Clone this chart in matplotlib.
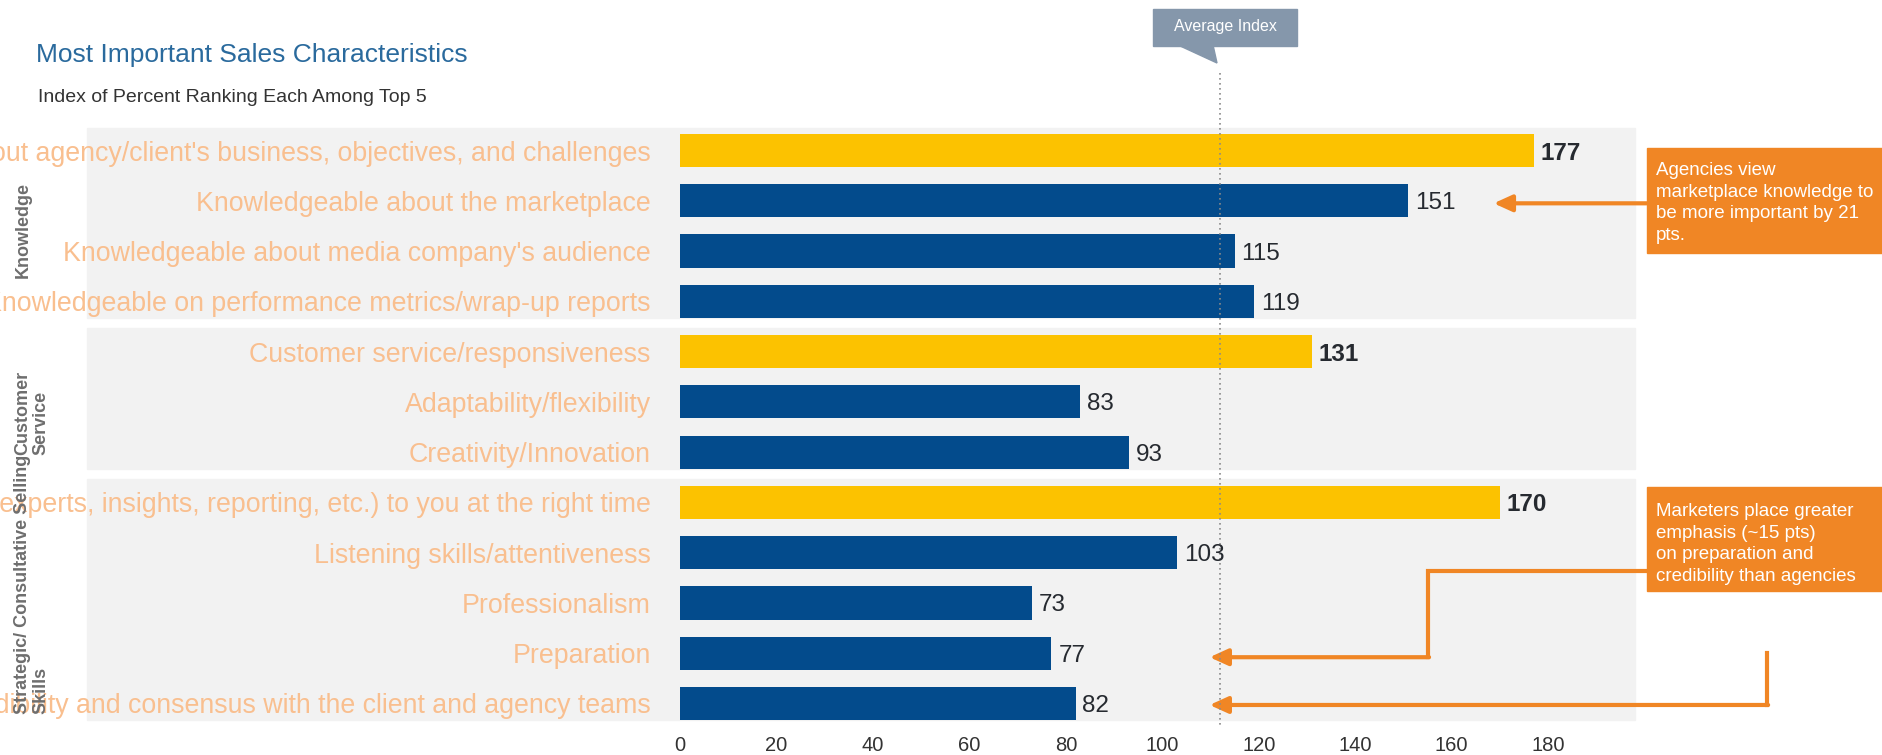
import matplotlib.pyplot as plt
from matplotlib.patches import Rectangle, Polygon

# chart data
labels = [
    "Knowledgeable about agency/client's business, objectives, and challenges",
    "Knowledgeable about the marketplace",
    "Knowledgeable about media company's audience",
    "Knowledgeable on performance metrics/wrap-up reports",
    "Customer service/responsiveness",
    "Adaptability/flexibility",
    "Creativity/Innovation",
    "Bringing the right resources (experts, insights, reporting, etc.) to you at the right time",
    "Listening skills/attentiveness",
    "Professionalism",
    "Preparation",
    "Building credibility and consensus with the client and agency teams",
]
values = [177, 151, 115, 119, 131, 83, 93, 170, 103, 73, 77, 82]
highlight = [True, False, False, False, True, False, False, True, False, False, False, False]
groups = ["Knowledge", "Customer\nService", "Strategic/ Consultative Selling\nSkills"]
group_rows = [(0, 3), (4, 6), (7, 11)]
avg_index = 112
xticks = list(range(0, 181, 20))

title = "Most Important Sales Characteristics"
subtitle = "Index of Percent Ranking Each Among Top 5"
note1 = "Agencies view\nmarketplace knowledge to\nbe more important by 21\npts."
note2 = "Marketers place greater\nemphasis (~15 pts)\non preparation and\ncredibility than agencies"

BLUE = "#034b8c"
YELLOW = "#fcc200"
ORANGE = "#f08625"
LABEL = "#f9bf8f"
BAND = "#f2f2f2"

W, H = 1882, 755
plt.rcParams['font.family'] = ['Liberation Sans', 'DejaVu Sans']
fig = plt.figure(figsize=(W / 100, H / 100), dpi=100)


def px(x, y):
    """pixel position -> figure fraction"""
    return (x / W, 1 - y / H)


ax = fig.add_axes([680 / W, 1 - 728.6 / H, 955 / W, 603.2 / H])
rows = list(range(len(values)))
colors = [YELLOW if h else BLUE for h in highlight]
ax.barh(rows, values, height=0.66, color=colors, zorder=3)
ax.set_xlim(0, 198)
ax.set_ylim(len(values) - 0.5, -0.5)

# grey group bands reaching into the label area
for first, last in group_rows:
    top = first - 0.47 if first else first - 0.44
    ax.add_patch(Rectangle((-122.9, top), 320.9, last + 0.33 - top,
                           color=BAND, zorder=0, clip_on=False))

for s in ax.spines.values():
    s.set_visible(False)
ax.set_yticks(rows)
ax.set_yticklabels(labels, fontsize=19.3, color=LABEL)
ax.set_xticks(xticks)
ax.tick_params(axis='y', length=0, pad=21)
ax.tick_params(axis='x', length=0, pad=5, labelsize=14.5, labelcolor='#333333')

for i, (v, h) in enumerate(zip(values, highlight)):
    ax.annotate(str(v), (v, i), xytext=(5, 0), textcoords='offset points',
                va='center_baseline', ha='left', fontsize=17.5, color='#262a30',
                fontweight='bold' if h else 'normal', zorder=5)

# group labels
group_y = [1.58, 5.22, 8.64]
for g, gy in zip(groups, group_y):
    ax.text(-138, gy, g, rotation=90, ha='left', va='center', multialignment='left',
            fontsize=13, fontweight='bold', color='#6e6e6e', linespacing=1.1,
            zorder=6, clip_on=False)

# average index line and tag
ax.plot([avg_index, avg_index], [-1.54, 11.45], ls=(0, (1, 2)), color='#8a8a8a',
        lw=1.2, clip_on=False, zorder=4)
fig.add_artist(Rectangle(px(1153, 46), 144 / W, 37 / H, transform=fig.transFigure,
                         color='#8597ab'))
fig.add_artist(Polygon([px(1178, 45), px(1213, 45), px(1217, 63)],
                       transform=fig.transFigure, color='#8597ab'))
fig.text(*px(1225, 27), "Average Index", ha='center', va='center', color='white', fontsize=11.5)

# title
fig.text(*px(36, 55), title, color='#2a6a9d', fontsize=19, va='center')
fig.text(*px(38, 97), subtitle, color='#333333', fontsize=14, va='center')

# orange callouts
fig.add_artist(Rectangle(px(1647, 253), 235 / W, 105 / H, transform=fig.transFigure, color=ORANGE))
fig.add_artist(Rectangle(px(1647, 591), 235 / W, 104 / H, transform=fig.transFigure, color=ORANGE))
fig.text(*px(1656, 203), note1, color='white', fontsize=13.5, va='center', linespacing=1.35)
fig.text(*px(1656, 544), note2, color='white', fontsize=13.5, va='center', linespacing=1.35)

arrow = dict(arrowstyle='-|>,head_length=11,head_width=5', mutation_scale=1,
             color=ORANGE, lw=3, shrinkA=0, shrinkB=0)
r_market = labels.index("Knowledgeable about the marketplace")
ax.annotate('', xy=(168.7, r_market + 0.05), xytext=(200.4, r_market + 0.05),
            arrowprops=arrow, annotation_clip=False)

r_prep = labels.index("Preparation")
r_cred = len(labels) - 1
ax.plot([200.4, 155, 155], [8.37, 8.37, r_prep + 0.08], color=ORANGE, lw=3,
        clip_on=False, solid_joinstyle='miter', zorder=4)
ax.annotate('', xy=(109.8, r_prep + 0.08), xytext=(155.3, r_prep + 0.08),
            arrowprops=arrow, annotation_clip=False)
ax.plot([225.3, 225.3], [r_prep, r_cred + 0.03], color=ORANGE, lw=3,
        clip_on=False, solid_joinstyle='miter', zorder=4)
ax.annotate('', xy=(109.8, r_cred + 0.03), xytext=(225.6, r_cred + 0.03),
            arrowprops=arrow, annotation_clip=False)

fig.savefig('out.png', dpi=100)
